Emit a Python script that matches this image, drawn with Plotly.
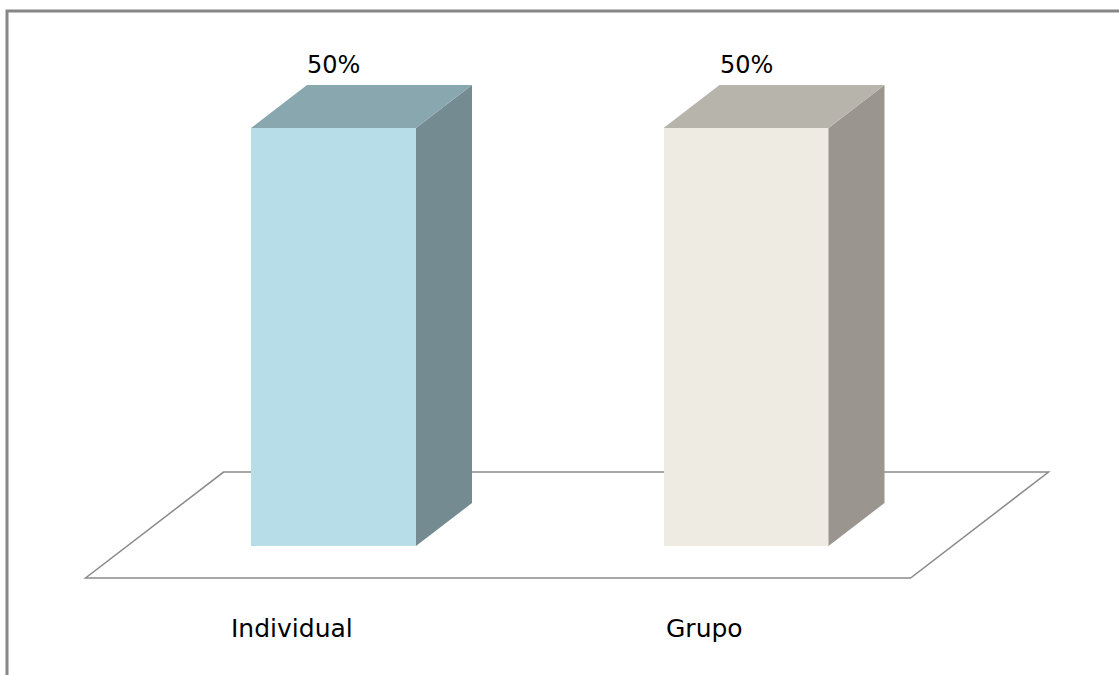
import plotly.graph_objects as go

# ---- data ----
categories = ["Individual", "Grupo"]
values = [50, 50]
value_labels = ["50%", "50%"]

front_colors = ["#B7DDE8", "#EEECE2"]
side_colors = ["#738B91", "#9A968F"]
top_colors = ["#89A7AE", "#B7B4AC"]

# ---- geometry (in axis units) ----
W, H = 1119, 675
xs = 412.5          # px per category unit
ys = 8.36           # px per percent unit
x_zero_px = 333.5
y_zero_px = 546
x0 = -x_zero_px / xs
x1 = x0 + W / xs
y1 = y_zero_px / ys
y0 = -(H - y_zero_px) / ys

bar_w = 0.4
dx = 56 / xs        # oblique depth offset per unit depth
dy = 43 / ys
floor_front = -0.744
floor_back = 1.72

fig = go.Figure()

pos = list(range(len(categories)))

# front faces
fig.add_trace(go.Bar(
    x=pos, y=values, width=bar_w,
    marker=dict(color=front_colors, line=dict(width=0)),
    hoverinfo="skip", showlegend=False,
))

# side & top faces
for i, v in enumerate(values):
    xl = pos[i] - bar_w / 2
    xr = pos[i] + bar_w / 2
    fig.add_trace(go.Scatter(
        x=[xr, xr + dx, xr + dx, xr, xr],
        y=[0, dy, v + dy, v, 0],
        mode="lines", fill="toself", fillcolor=side_colors[i],
        line=dict(width=0, color=side_colors[i]),
        hoverinfo="skip", showlegend=False,
    ))
    fig.add_trace(go.Scatter(
        x=[xl, xl + dx, xr + dx, xr, xl],
        y=[v, v + dy, v + dy, v, v],
        mode="lines", fill="toself", fillcolor=top_colors[i],
        line=dict(width=0, color=top_colors[i]),
        hoverinfo="skip", showlegend=False,
    ))

# floor (below the bars)
fl, fr = -0.5, len(categories) - 0.5
floor_x = [fl + floor_front * dx, fr + floor_front * dx, fr + floor_back * dx, fl + floor_back * dx]
floor_y = [floor_front * dy, floor_front * dy, floor_back * dy, floor_back * dy]
path = "M " + " L ".join(f"{a},{b}" for a, b in zip(floor_x, floor_y)) + " Z"
shapes = [
    dict(type="path", path=path, xref="x", yref="y", layer="below",
         fillcolor="white", line=dict(color="#8A8A8A", width=1.5)),
    # chart outer border
    dict(type="rect", xref="paper", yref="paper",
         x0=7 / W, x1=1.02, y0=-0.02, y1=1 - 11 / H, layer="below",
         line=dict(color="#878787", width=3), fillcolor="rgba(0,0,0,0)"),
]

annotations = []
for i, v in enumerate(values):
    annotations.append(dict(
        x=pos[i], y=v + dy, xref="x", yref="y", text=value_labels[i],
        showarrow=False, yanchor="middle", yshift=20,
        font=dict(family="DejaVu Sans", size=24, color="#000000"),
    ))
    annotations.append(dict(
        x=pos[i] + floor_front * dx, y=floor_front * dy, xref="x", yref="y",
        text=categories[i], showarrow=False, yanchor="middle", yshift=-51,
        font=dict(family="DejaVu Sans", size=25, color="#000000"),
    ))

fig.update_layout(
    width=W, height=H, autosize=False,
    margin=dict(l=0, r=0, t=0, b=0),
    paper_bgcolor="white", plot_bgcolor="white",
    xaxis=dict(range=[x0, x1], visible=False, fixedrange=True),
    yaxis=dict(range=[y0, y1], visible=False, fixedrange=True),
    shapes=shapes, annotations=annotations,
    bargap=0, showlegend=False,
)

fig.write_html("out.html")
